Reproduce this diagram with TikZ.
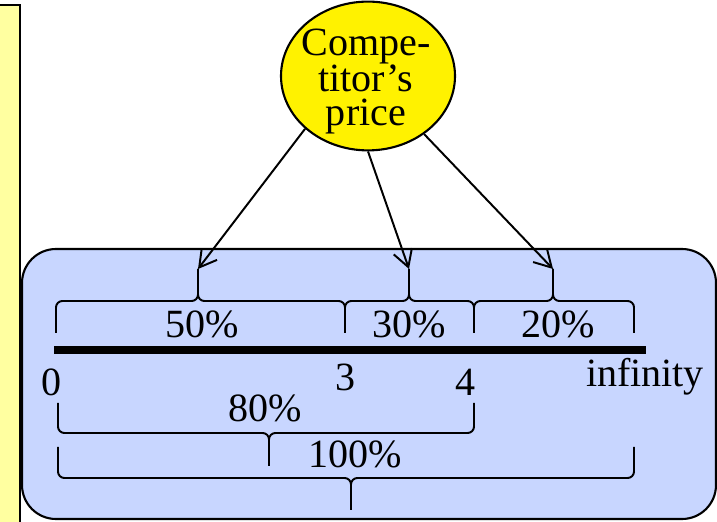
\documentclass[tikz,border=0pt]{standalone}
\usepackage{fontspec}
\setmainfont{Liberation Serif}
\usepackage{xcolor}
\usepackage{tikz}
\usetikzlibrary{arrows.meta, positioning, shapes.geometric, calc}

\definecolor{paleyellow}{RGB}{255,255,160}
\definecolor{rangeblue}{RGB}{200,214,255}

\begin{document}
\begin{tikzpicture}[
    font=\fontsize{28.5}{23.8}\selectfont,
    panel/.style={draw, line width=1.5pt},
    price/.style={ellipse, draw, line width=1.5pt, fill=yellow, minimum width=4.35cm, minimum height=3.72cm, inner sep=0pt},
    bracepath/.style={line width=1.4pt, rounded corners=0.16cm},
    label/.style={anchor=base, inner sep=0pt},
    arrow/.style={-{Straight Barb[length=0.42cm, width=0.48cm]}, line width=1.4pt}
]
\useasboundingbox (0,0) rectangle (17.925,13.05);

% Side panel and range box
\draw[panel, fill=paleyellow] (-0.3,-0.3) rectangle (0.5,12.925);
\draw[panel, fill=rangeblue, rounded corners=0.85cm] (0.55,0.075) rectangle (17.9,6.825);

% Competitor's price
\node[price] (comp) at (9.2, 11.15) {};
\node[align=center, inner sep=0pt] (comptext) at (9.15, 11.02) {Compe-\\titor's\\price};

% Price axis
\draw[line width=0.2cm] (1.35,4.3) -- (16.15,4.3);
\node[label] (n0) at (1.3, 3.15) {0};
\node[label] (n3) at (8.65, 3.275) {3};
\node[label] (n4) at (11.65, 3.15) {4};
\node[label] (ninf) at (16.125, 3.375) {infinity};

% Upper braces
\coordinate (tip50) at (4.95, 6.325);
\coordinate (tip30) at (10.225, 6.325);
\coordinate (tip20) at (13.825, 6.325);
\draw[bracepath] (1.4,4.725) |- (4.95,5.525) -- (tip50);
\draw[bracepath] (8.625,4.725) |- (4.95,5.525) -- (tip50);
\draw[bracepath] (8.625,4.725) |- (10.225,5.525) -- (tip30);
\draw[bracepath] (11.85,4.725) |- (10.225,5.525) -- (tip30);
\draw[bracepath] (11.85,4.725) |- (13.825,5.525) -- (tip20);
\draw[bracepath] (15.85,4.725) |- (13.825,5.525) -- (tip20);
\node[label] (lbl50) at (5.05, 4.6) {50\%};
\node[label] (lbl30) at (10.225, 4.6) {30\%};
\node[label] (lbl20) at (13.95, 4.6) {20\%};

% Lower braces
\coordinate (tip80) at (6.725, 1.4);
\coordinate (tip100) at (8.775, 0.3);
\draw[bracepath] (1.45,2.975) |- (6.725,2.225) -- (tip80);
\draw[bracepath] (11.85,2.975) |- (6.725,2.225) -- (tip80);
\draw[bracepath] (1.45,1.875) |- (8.775,1.1) -- (tip100);
\draw[bracepath] (15.85,1.875) |- (8.775,1.1) -- (tip100);
\node[label] (lbl80) at (6.625, 2.5) {80\%};
\node[label] (lbl100) at (8.875, 1.35) {100\%};

% Arrows
\draw[arrow] (comp.-140) -- (tip50);
\draw[arrow] (comp.south) -- (tip30);
\draw[arrow] (comp.-46) -- (tip20);
\end{tikzpicture}
\end{document}
